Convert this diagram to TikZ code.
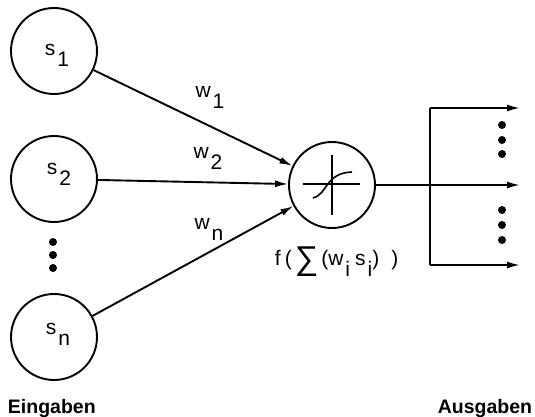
\documentclass[tikz,border=0pt]{standalone}
\usepackage{fontspec}
\setmainfont{Liberation Sans}
\usetikzlibrary{arrows.meta}
\begin{document}
\begin{tikzpicture}[x=1pt,y=-1pt,
  line width=1.9pt,
  unit/.style={draw,circle,minimum size=86pt,inner sep=0pt},
  arr/.style={-{Latex[length=13pt,width=7pt]}},
  dot/.style={circle,fill,inner sep=0pt,minimum size=8pt},
  wlab/.style={font=\fontsize{21}{21}\selectfont,inner sep=0pt},
  big/.style={font=\fontsize{19.5}{19.5}\selectfont\bfseries,inner sep=0pt}]
\useasboundingbox (0,0) rectangle (535,417);
\newcommand{\lab}[2]{#1\hspace{2pt}\raisebox{-11pt}{#2}}
\node[unit] (s1) at (54,51) {};
\node[unit] (s2) at (54,179) {};
\node[unit] (sn) at (54,337) {};
\node[wlab] (t1) at (57,55) {\lab{s}{1}};
\node[wlab] (t2) at (59,174) {\lab{s}{2}};
\node[wlab] (tn) at (58,334) {\lab{s}{n}};
\node[dot] (d1) at (53,242) {};
\node[dot] (d2) at (53,255) {};
\node[dot] (d3) at (53,268) {};
\node[unit] (neu) at (332,185) {};
\draw[arr] (s1) -- (neu);
\draw[arr] (s2) -- (neu);
\draw[arr] (sn) -- (neu);
\node[wlab] (w1) at (210,97) {\lab{w}{1}};
\node[wlab] (w2) at (208,158) {\lab{w}{2}};
\node[wlab] (wn) at (209,229) {\lab{w}{n}};
\draw[line width=1.6pt] (303,184) -- (360,184);
\draw[line width=1.6pt] (332,155) -- (332,215);
\draw[line width=1.6pt] (313,198) .. controls (328,194) and (325,173) .. (352,172);
\node[wlab,anchor=base west] (f) at (274,265) {f\hspace{4pt}(\hspace{3pt}\raisebox{-4pt}{\fontsize{33}{33}\selectfont ∑}\hspace{3pt}(\lab{w}{i}\hspace{5pt}\lab{s}{i})\hspace{12pt})};
\coordinate (j) at (430,185);
\coordinate (jt) at (430,108);
\coordinate (jb) at (430,265);
\coordinate (ot) at (520,108);
\coordinate (om) at (520,185);
\coordinate (ob) at (520,265);
\draw (neu) -- (j);
\draw[arr] (j) -- (om);
\draw[arr] (jt) -- (ot);
\draw[arr] (jb) -- (ob);
\draw (jt) -- (jb);
\foreach \y/\n in {125/a,140/b,154/c,210/d,225/e,240/f} \node[dot] (r\n) at (502,\y) {};
\node[big,anchor=base west] (ein) at (7,413) {Eingaben};
\node[big,anchor=base east] (aus) at (533,413) {Ausgaben};
\end{tikzpicture}
\end{document}
